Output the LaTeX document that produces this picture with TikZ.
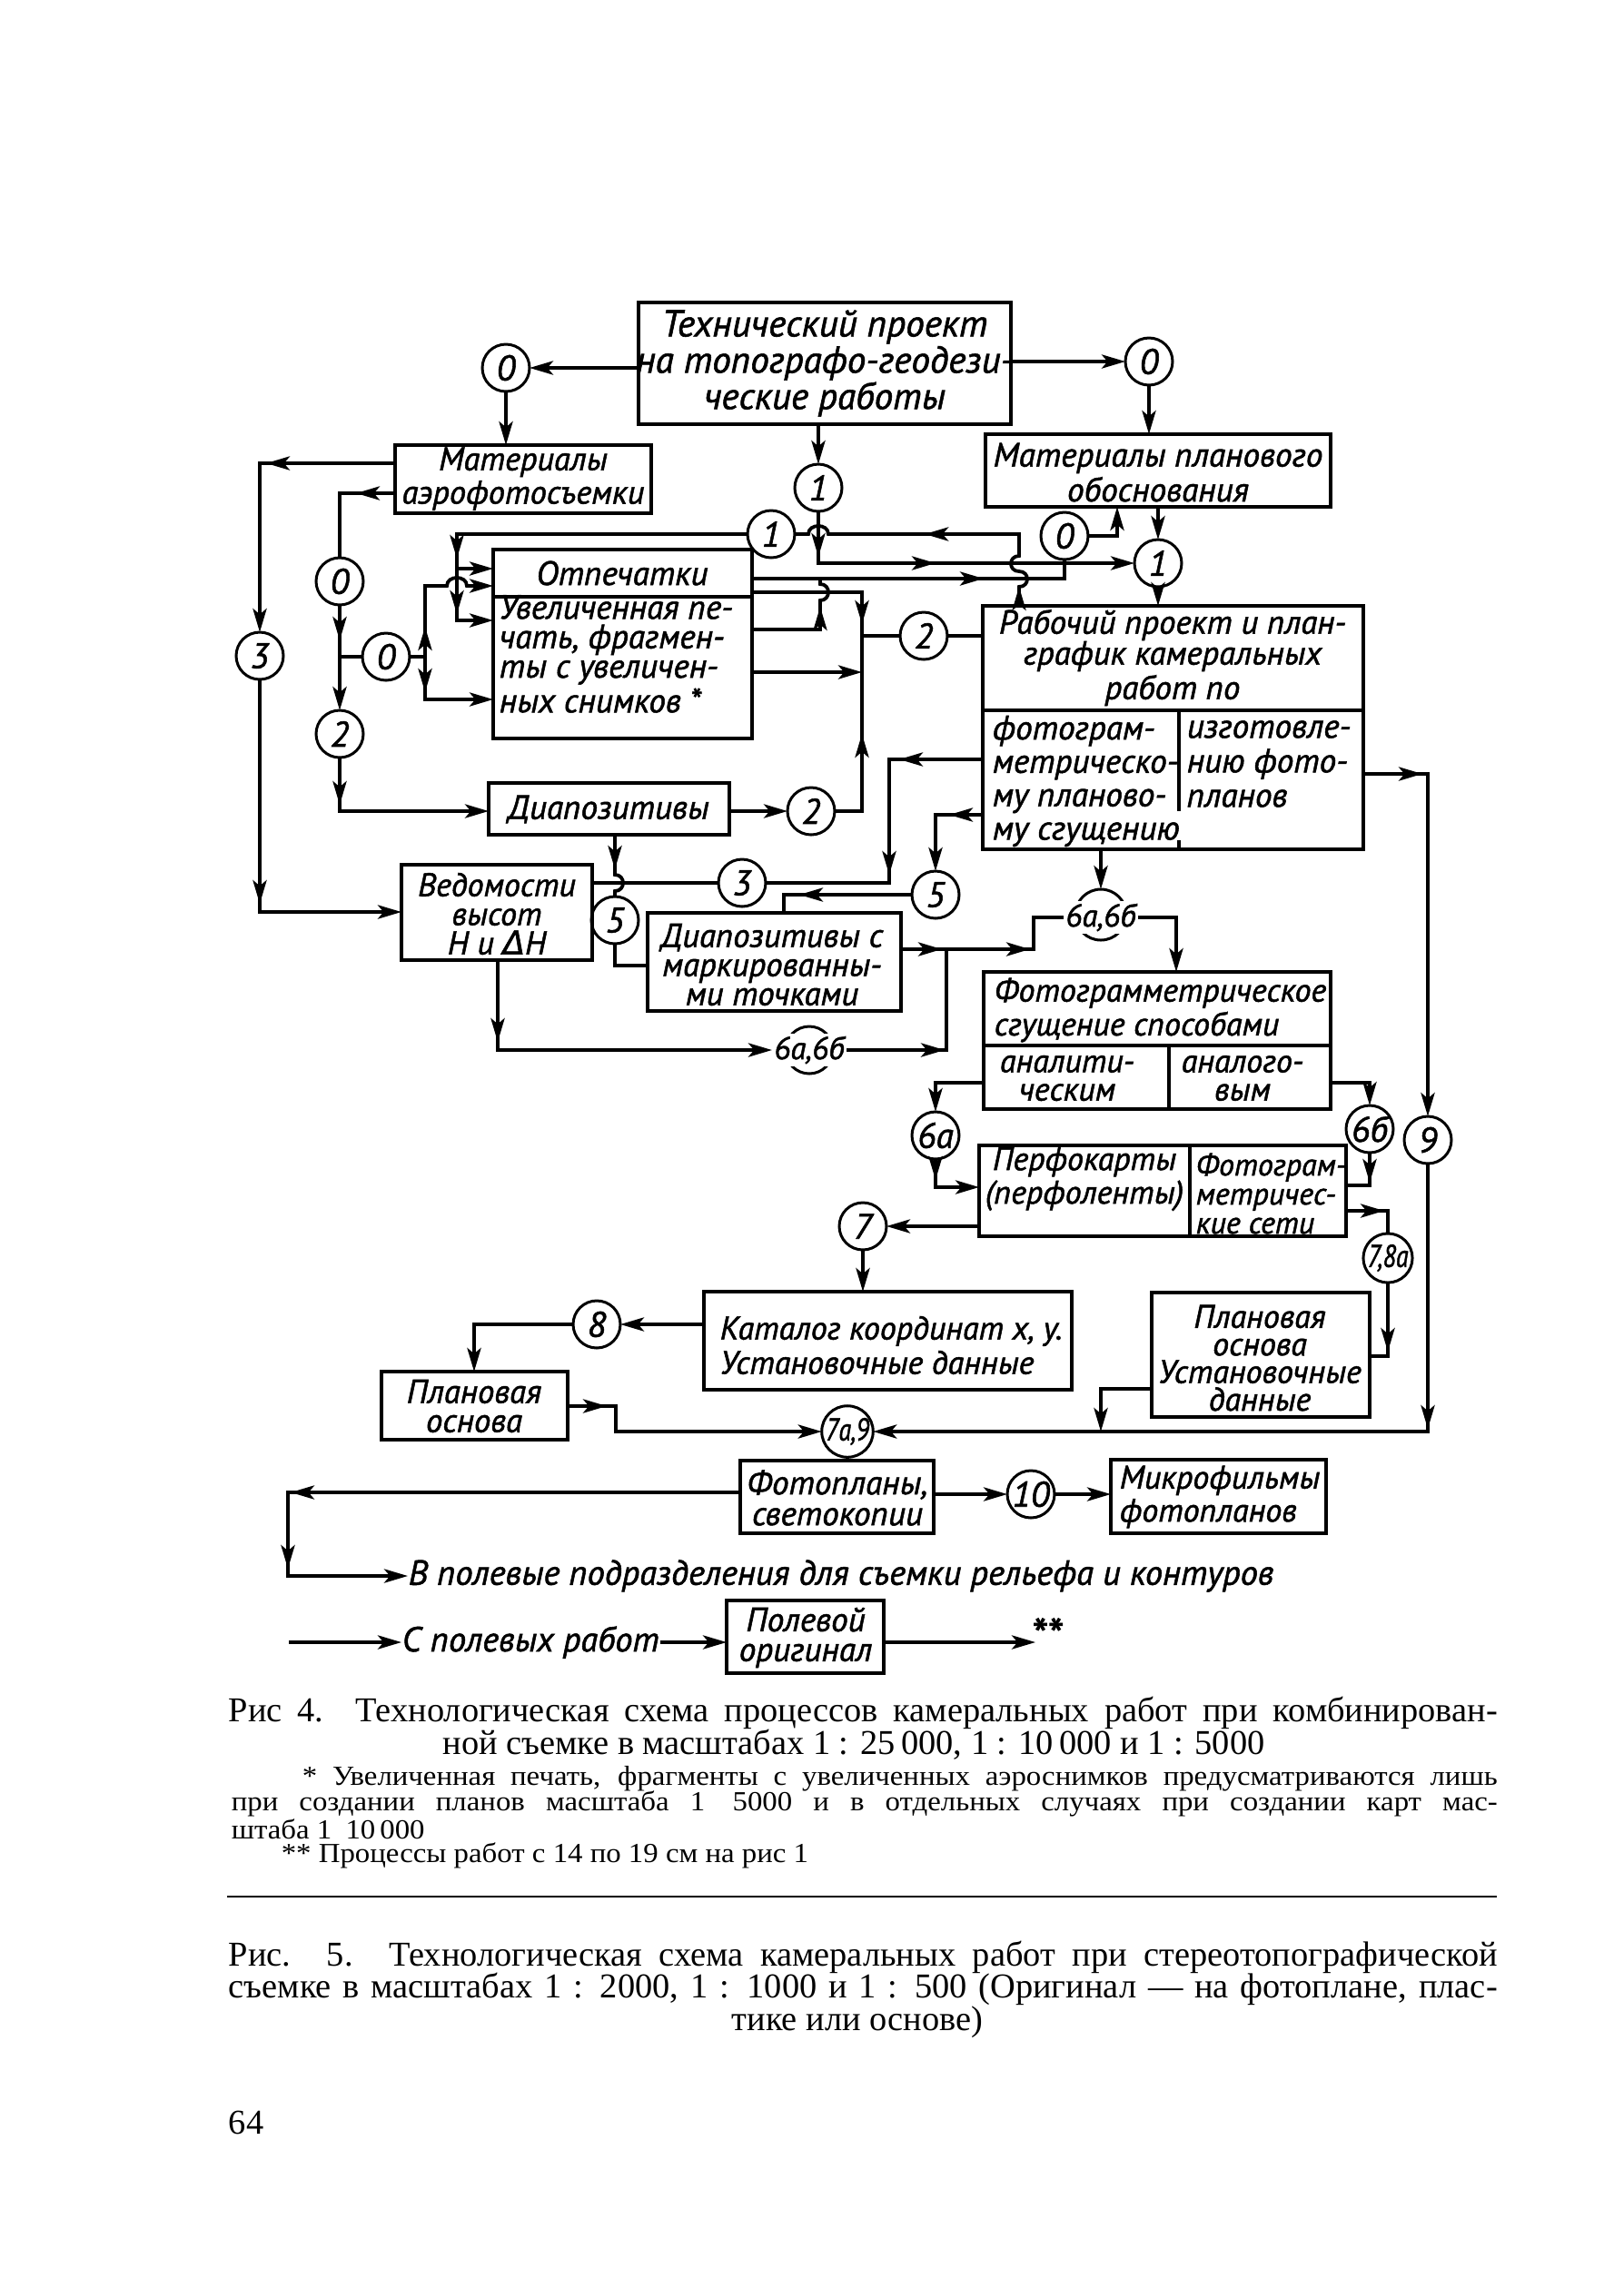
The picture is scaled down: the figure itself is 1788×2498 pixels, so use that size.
\documentclass[tikz,border=0pt]{standalone}
\usepackage{fontspec}
\usepackage{graphicx}
\setmainfont{Liberation Serif}
\newfontfamily\diagfont{PT Sans}[FakeBold=1.4]
\newfontfamily\dejafont{DejaVu Sans}[FakeBold=1.4]
\newfontfamily\notefont{Liberation Serif}[FakeStretch=1.08]
\usetikzlibrary{arrows.meta,decorations.markings,calc}
\newcommand\mkbox[5]{%
  \pgfmathsetmacro\bxw{(#4-#2)*0.25}%
  \pgfmathsetmacro\bxh{(#5-#3)*0.25}%
  \node[bxframe,minimum width=\bxw pt,minimum height=\bxh pt] (#1) at ({(#2+#4)/2},{(#3+#5)/2}) {};}
\newcommand\dfs[2]{\diagfont\itshape\fontsize{#1}{#2}\selectfont}
\begin{document}
\begin{tikzpicture}[x=0.25pt,y=-0.25pt,
  >={Stealth[length=6.5pt,width=3.8pt,inset=1.6pt]},
  ln/.style={line width=0.95pt,line join=miter},
  arr/.style={ln,->},
  ah/.style={postaction={decorate,decoration={markings,mark=at position #1 with {\arrow{>}}}}},
  bxframe/.style={draw,line width=1.15pt,inner sep=0pt,outer sep=0pt},
  dvd/.style={line width=1.15pt},
  circ/.style={draw,circle,line width=0.75pt,minimum size=13pt,inner sep=0pt,outer sep=0pt,font=\dfs{9.8}{9.8}},
  lbl/.style={inner sep=0.6pt,outer sep=0pt,font=\dfs{8.7}{8.7}},
  txt/.style={inner sep=0pt,align=center,font=\dfs{9.3}{8}},
  captxt/.style={inner sep=0pt,font=\fontsize{9.6}{11}\selectfont},
  notetxt/.style={inner sep=0pt,font=\notefont\fontsize{7.6}{8.5}\selectfont}]
\fill[white] (0,0) rectangle (1788,2498);
\useasboundingbox (0,0) rectangle (1788,2498);

% ---------- boxes ----------
\mkbox{tp}{703}{333}{1113}{467}
\mkbox{maf}{435}{490}{717}{565}
\mkbox{mpo}{1085}{478}{1465}{558}
\mkbox{otp}{543}{605}{828}{813}
\draw[dvd] ($(otp.north west)+(0,52)$) -- ($(otp.north east)+(0,52)$);
\mkbox{dia}{538}{862}{803}{919}
\mkbox{rab}{1082}{667}{1501}{935}
\draw[dvd] ($(rab.north west)+(0,115)$) -- ($(rab.north east)+(0,115)$);
\draw[dvd] ($(rab.north west)+(216,115)$) -- ($(rab.north west)+(216,226)$);
\draw[dvd] ($(rab.south west)+(216,-10)$) -- ($(rab.south west)+(216,0)$);
\mkbox{ved}{442}{952}{652}{1057}
\mkbox{dmt}{713}{1005}{992}{1113}
\mkbox{fgs}{1083}{1070}{1465}{1221}
\draw[dvd] ($(fgs.north west)+(0,81)$) -- ($(fgs.north east)+(0,81)$);
\draw[dvd] ($(fgs.north west)+(204,81)$) -- ($(fgs.south west)+(204,0)$);
\mkbox{prf}{1078}{1261}{1482}{1361}
\draw[dvd] ($(prf.north west)+(232,0)$) -- ($(prf.south west)+(232,0)$);
\mkbox{kat}{775}{1422}{1180}{1530}
\mkbox{plo}{420}{1510}{625}{1585}
\mkbox{pou}{1268}{1423}{1508}{1560}
\mkbox{fpl}{815}{1608}{1028}{1688}
\mkbox{mkf}{1223}{1607}{1460}{1688}
\mkbox{pol}{800}{1762}{973}{1842}

% ---------- box texts ----------
\node[txt,font=\dfs{10.3}{10}] (t1) at (908,400) {Технический проект\\на топографо-геодези-\\ческие работы};
\node[txt,font=\dfs{9.1}{7.6}] (t2) at (576,527) {Материалы\\аэрофотосъемки};
\node[txt,font=\dfs{9.3}{8.5}] (t3) at (1275,520) {Материалы планового\\обоснования};
\node[txt] (t4) at (685,631) {Отпечатки};
\node[txt,align=left,anchor=west,font=\dfs{9.3}{8.1}] (t5) at (549,720) {Увеличенная пе-\\чать, фрагмен-\\ты с увеличен-\\ных снимков *};
\node[txt] (t6) at (670,891) {Диапозитивы};
\node[txt,font=\dfs{9.2}{8.5}] (t7) at (1291,724) {Рабочий проект и план-\\график камеральных\\работ по};
\node[txt,align=left,anchor=west,font=\dfs{9.3}{9.2}] (t8) at (1092,860) {фотограм-\\метрическо-\\му планово-\\му сгущению};
\node[txt,align=left,anchor=west,font=\dfs{9.3}{9.5}] (t9) at (1306,841) {изготовле-\\нию фото-\\планов};
\node[txt,font=\dfs{9}{8}] (t10) at (547,1006) {Ведомости\\высот\\Н и {\dejafont\itshape Δ}Н};
\node[txt,font=\dfs{9.2}{8}] (t11) at (850,1062) {Диапозитивы с\\маркированны-\\ми точками};
\node[txt,align=left,anchor=west,font=\dfs{9}{8.3}] (t12) at (1094,1112) {Фотограмметрическое\\сгущение способами};
\node[txt,font=\dfs{9}{7.8}] (t13) at (1175,1187) {аналити-\\ческим};
\node[txt,font=\dfs{9}{7.8}] (t14) at (1368,1187) {аналого-\\вым};
\node[txt,font=\dfs{9}{7.3}] (t15) at (1194,1298) {Перфокарты\\(перфоленты)};
\node[txt,align=left,anchor=west,font=\dfs{8.5}{8}] (t16) at (1316,1314) {Фотограм-\\метричес-\\кие сети};
\node[txt,align=left,anchor=west,font=\dfs{9}{9.5}] (t17) at (792,1481) {Каталог координат x, y.\\Установочные данные};
\node[txt,font=\dfs{9.2}{8}] (t18) at (522,1548) {Плановая\\основа};
\node[txt,font=\dfs{9}{7.6}] (t19) at (1387,1495) {Плановая\\основа\\Установочные\\данные};
\node[txt,font=\dfs{9.3}{8.5}] (t20) at (922,1649) {Фотопланы,\\светокопии};
\node[txt,align=left,anchor=west,font=\dfs{9}{7.8}] (t21) at (1232,1648) {Микрофильмы\\фотопланов};
\node[txt,anchor=west,font=\dfs{9.6}{9}] (txtV) at (449,1735) {В полевые подразделения для съемки рельефа и контуров};
\node[txt,anchor=west,font=\dfs{9.6}{9}] (txtS) at (442,1808) {С полевых работ};
\node[txt,font=\dfs{9.3}{8.2}] (t22) at (887,1803) {Полевой\\оригинал};
\node[txt,anchor=west,font=\dfs{13}{13}] (stars) at (1134,1800) {**};

% ---------- circles ----------
\node[circ] (c0L) at (557,405) {0};
\node[circ] (c0R) at (1265,398) {0};
\node[circ] (c1a) at (901,537) {1};
\node[circ] (c1b) at (849,588) {1};
\node[circ] (c1R) at (1275,620) {1};
\node[circ] (c0s) at (1172,590) {0};
\node[circ] (c0u) at (374,640) {0};
\node[circ] (c0m) at (425,723) {0};
\node[circ] (c2L) at (374,808) {2};
\node[circ] (c3L) at (286,722) {3};
\node[circ] (c2d) at (893,893) {2};
\node[circ] (c2u) at (1017,700) {2};
\node[circ] (c3m) at (817,972) {3};
\node[circ] (c5L) at (677,1013) {5};
\node[circ] (c5R) at (1030,985) {5};
\node[circ,minimum size=14pt] (c6u) at (1212,1007) {};
\node[lbl,fill=white] (c6ut) at (1212,1010) {6а,6б};
\node[circ] (c6d) at (891,1156) {};
\node[lbl,fill=white] (c6dt) at (891,1156) {6а,6б};
\node[circ] (c6a) at (1030,1250) {6а};
\node[circ] (c6b) at (1508,1243) {6б};
\node[circ] (c9) at (1572,1255) {9};
\node[circ,font=\dfs{8.7}{8.7}] (c78) at (1528,1385) {\scalebox{0.8}[1]{7,8а}};
\node[circ] (c7) at (950,1350) {7};
\node[circ] (c8) at (657,1458) {8};
\node[circ,font=\dfs{8.7}{8.7}] (c79) at (933,1576) {\scalebox{0.8}[1]{7а,9}};
\node[circ] (c10) at (1135,1645) {10};

% ---------- connectors ----------
\draw[arr] (tp.west |- c0L) -- (c0L.east);
\draw[arr] (tp.east |- c0R) -- (c0R.west);
\draw[arr] (c0L.south) -- (c0L.south |- maf.north);
\draw[arr] (c0R.south) -- (c0R.south |- mpo.north);
\draw[arr] (c1a.north |- tp.south) -- (c1a.north);

\draw[arr,ah=12.5pt,ah=46.5pt] (c1a.south) |- (c1R.west);
\draw[arr] (c1R.north |- mpo.south) -- (c1R.north);
\draw[arr] (c1R.south) -- (c1R.south |- rab.north);

\coordinate (b9) at (1230,590);
\draw[arr] (c0s.east) -- (b9) -- (b9 |- mpo.south);

\coordinate (b10) at (1172,637);
\draw[ln,ah=63.75pt] (b10 -| otp.east) -- (b10) -- (c0s.south);

\coordinate (b11) at (1122,588);
\draw[ln,ah=5.25pt,ah=51pt] (b11 |- rab.north) -- (1122,646) .. controls (1134,646) and (1134,629) .. (1122,629) .. controls (1110,629) and (1110,612) .. (1122,612) -- (b11) -- (912,588) .. controls (912,576) and (890,576) .. (890,588) -- (c1b.east);

\coordinate (b12) at (503,588);
\coordinate (b12b) at (503,683);
\coordinate (j12) at (503,626);
\draw[arr,ah=86.75pt,ah=102pt] (c1b.west) -- (b12) -- (b12b) -- (b12b -| otp.west);
\draw[arr] (j12) -- (j12 -| otp.west);

\coordinate (b13) at (374,543);
\draw[ln,ah=10.75pt] (b13 -| maf.west) -- (b13) -- (c0u.north);

\coordinate (j14) at (374,723);
\draw[arr,ah=9.75pt] (c0u.south) -- (c2L.north);
\draw[ln] (j14) -- (c0m.west);

\coordinate (j15) at (468,723);
\coordinate (b15u) at (468,645);
\coordinate (b15d) at (468,770);
\draw[ln] (c0m.east) -- (j15);
\draw[arr,ah=8.25pt] (j15) -- (b15u) -- (492,645) .. controls (492,633) and (514,633) .. (514,645) -- (b15u -| otp.west);
\draw[arr,ah=9.75pt] (j15) -- (b15d) -- (b15d -| otp.west);

\coordinate (b16) at (374,893);
\draw[arr,ah=13pt] (c2L.south) -- (b16) -- (b16 -| dia.west);

\coordinate (b17) at (286,510);
\draw[arr,ah=35.5pt] (b17 -| maf.west) -- (b17) -- (c3L.north);

\coordinate (b18) at (286,1004);
\draw[arr,ah=61.75pt] (c3L.south) -- (b18) -- (b18 -| ved.west);

\draw[arr] (c2d.west -| dia.east) -- (c2d.west);

\coordinate (j20) at (949,700);
\coordinate (b20a) at (949,652);
\coordinate (b20b) at (949,740);
\draw[ln,ah=28.75pt] (c2d.east) -| (j20);
\draw[ln] (j20) -- (c2u.west);
\draw[ln] (c2u.east) -- (c2u.east -| rab.west);
\draw[ln,ah=39pt] (b20a -| otp.east) -- (b20a) -- (j20);
\draw[arr] (b20b -| otp.east) -- (b20b);

\coordinate (b21) at (903,693);
\coordinate (j21) at (903,637);
\draw[ln,ah=25pt] (b21 -| otp.east) -- (b21) -- (903,661) .. controls (915,661) and (915,643) .. (903,643) -- (j21);

\coordinate (b22a) at (979,836);
\coordinate (b22b) at (979,972);
\draw[ln,ah=23pt,ah=57.5pt] (b22a -| rab.west) -- (b22a) -- (b22b) -- (c3m.east);
\draw[ln] (c3m.west) -- (c3m.west -| ved.east);

\coordinate (b23) at (1030,897);
\draw[arr,ah=9.25pt] (b23 -| rab.west) -- (b23) -- (c5R.north);

\coordinate (b24) at (863,985);
\draw[ln,ah=31pt] (c5R.west) -- (b24) -- (b24 |- dmt.north);

\draw[ln,ah=9.5pt] (c5L.north |- dia.south) -- (677,963) .. controls (689,963) and (689,981) .. (677,981) -- (c5L.north);

\coordinate (b26) at (677,1063);
\draw[ln] (c5L.south) -- (b26) -- (b26 -| dmt.west);

\coordinate (b27a) at (1138,1045);
\coordinate (b27b) at (1138,1010);
\coordinate (j28) at (1042,1045);
\draw[ln,ah=11.25pt,ah=35.5pt] (b27a -| dmt.east) -- (b27a) -- (b27b) -- (c6ut.west);

\coordinate (b28) at (1042,1156);
\draw[ln,ah=27pt,ah=55.5pt] (c6dt.east) -- (b28) -- (j28);

\coordinate (b29) at (548,1156);
\draw[arr,ah=22.5pt] (b29 |- ved.south) -- (b29) -- (c6dt.west);

\draw[arr] (c6u.north |- rab.south) -- (c6u.north);

\coordinate (b31) at (1295,1010);
\draw[arr] (c6ut.east) -- (b31) -- (b31 |- fgs.north);

\coordinate (b32) at (1030,1192);
\draw[arr] (b32 -| fgs.west) -- (b32) -- (c6a.north);

\coordinate (b33) at (1030,1307);
\draw[arr,ah=5.75pt] (c6a.south) -- (b33) -- (b33 -| prf.west);

\coordinate (b34) at (1508,1192);
\draw[arr] (b34 -| fgs.east) -- (b34) -- (c6b.north);

\coordinate (b35) at (1508,1305);
\draw[ln,ah=8.25pt] (c6b.south) -- (b35) -- (b35 -| prf.east);

\coordinate (b36) at (1528,1333);
\draw[ln,ah=10.5pt] (b36 -| prf.east) -- (b36) -- (c78.north);

\coordinate (b37) at (1528,1493);
\draw[ln,ah=19pt] (c78.south) -- (b37) -- (b37 -| pou.east);

\coordinate (b38) at (1572,852);
\draw[arr,ah=16.25pt] (b38 -| rab.east) -- (b38) -- (c9.north);

\coordinate (b39) at (1572,1576);
\draw[arr,ah=73pt] (c9.south) -- (b39) -- (c79.east);

\coordinate (b40) at (1212,1529);
\coordinate (j40) at (1212,1576);
\draw[arr] (b40 -| pou.west) -- (b40) -- (j40);

\draw[arr] (c7.east -| prf.west) -- (c7.east);
\draw[arr] (c7.south) -- (c7.south |- kat.north);
\draw[arr] (c8.east -| kat.west) -- (c8.east);

\coordinate (b44) at (522,1458);
\draw[arr] (c8.west) -- (b44) -- (b44 |- plo.north);

\coordinate (b45a) at (678,1548);
\coordinate (b45b) at (678,1576);
\draw[arr,ah=10.75pt] (b45a -| plo.east) -- (b45a) -- (b45b) -- (c79.west);

\draw[ln] (c79.south) -- (c79.south |- fpl.north);
\draw[arr] (c10.west -| fpl.east) -- (c10.west);
\draw[arr] (c10.east) -- (c10.east -| mkf.west);

\coordinate (b49a) at (317,1643);
\coordinate (b49b) at (317,1735);
\draw[arr,ah=123.75pt,ah=145.5pt] (b49a -| fpl.west) -- (b49a) -- (b49b) -- (txtV.west);

\coordinate (s50) at (318,1808);
\draw[arr] (s50) -- (txtS.west);
\draw[arr] (txtS.east) -- (txtS.east -| pol.west);
\coordinate (e52) at (1140,1808);
\draw[arr] (e52 -| pol.east) -- (e52);

% ---------- captions ----------
\node[captxt,anchor=west] (cap1) at (251,1886) {\makebox[349.25pt][s]{Рис 4. Технологическая схема процессов камеральных работ при комбинирован-}};
\node[captxt] (cap2) at (940,1921) {ной съемке в масштабах 1 : 25\,000, 1 : 10\,000 и 1 : 5000};
\node[notetxt,anchor=west] (n1) at (332,1958) {\makebox[329pt][s]{* Увеличенная печать, фрагменты с увеличенных аэроснимков предусматриваются лишь}};
\node[notetxt,anchor=west] (n2) at (254,1986) {\makebox[348.5pt][s]{при создании планов масштаба 1\quad 5000 и в отдельных случаях при создании карт мас-}};
\node[notetxt,anchor=west] (n3) at (254,2014) {штаба 1\enspace 10\,000};
\node[notetxt,anchor=west] (n4) at (309,2043) {** Процессы работ с 14 по 19 см на рис 1};
\draw[line width=0.5pt] (250,2088) -- (1648,2088);
\node[captxt,anchor=west] (cap3) at (251,2155) {\makebox[349.25pt][s]{Рис. 5. Технологическая схема камеральных работ при стереотопографической}};
\node[captxt,anchor=west] (cap4) at (251,2190) {\makebox[349.25pt][s]{съемке в масштабах 1 : 2000, 1 : 1000 и 1 : 500 (Оригинал — на фотоплане, плас-}};
\node[captxt] (cap5) at (944,2226) {тике или основе)};
\node[captxt,anchor=west] (pg) at (251,2337) {64};
\end{tikzpicture}
\end{document}
